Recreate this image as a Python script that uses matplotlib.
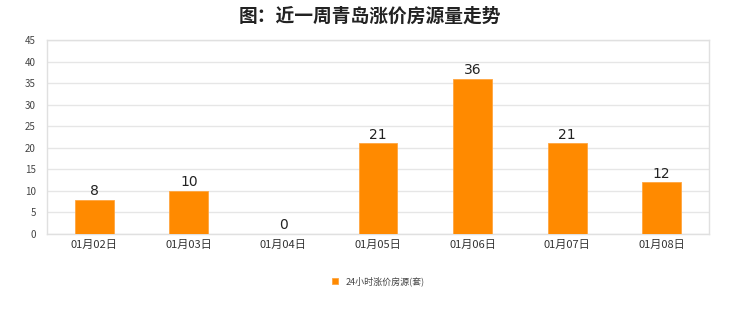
import matplotlib.pyplot as plt
import numpy as np

plt.rcParams['font.family'] = ['Noto Sans CJK SC', 'DejaVu Sans']

# data
dates = ['01月02日', '01月03日', '01月04日', '01月05日', '01月06日', '01月07日', '01月08日']
listings = [8, 10, 0, 21, 36, 21, 12]
yticks = list(range(0, 50, 5))

fig = plt.figure(figsize=(7.4, 3.12), dpi=100)
ax = fig.add_axes([47 / 740, 1 - 234 / 312, 662 / 740, 194 / 312])

x = np.arange(len(dates))
ax.bar(x, listings, width=0.41, color='#ff8a00', edgecolor='#ffa640', linewidth=0.6,
       label='24小时涨价房源(套)', zorder=3)

# value labels above bars
for xi, v in zip(x, listings):
    ax.text(xi, v + 0.4, str(v), ha='center', va='bottom', fontsize=10,
            color='#222222', family='DejaVu Sans')

ax.set_xlim(-0.5, len(dates) - 0.5)
ax.set_ylim(0, 45)
ax.set_yticks(yticks)
ax.set_xticks(x)
ax.set_xticklabels(dates, fontsize=8, color='#333333')
ax.tick_params(axis='y', labelsize=7, colors='#444444', length=0, pad=8)
ax.tick_params(axis='x', length=0, pad=4)
ax.grid(axis='y', color='#e6e6e6', linewidth=1, zorder=0)
for s in ax.spines.values():
    s.set_color('#e0e0e0')
    s.set_linewidth(1)

fig.suptitle('图：近一周青岛涨价房源量走势', y=1 - 16 / 312, va='center',
             fontsize=13.5, fontweight='bold', color='#222222')

leg = ax.legend(loc='center', bbox_to_anchor=(0.5, (234 - 281) / 194), frameon=False,
                fontsize=6.5, handlelength=0.7, handleheight=0.7, handletextpad=0.8)
for t in leg.get_texts():
    t.set_color('#444444')

fig.savefig('out.png', dpi=100, facecolor='white')
